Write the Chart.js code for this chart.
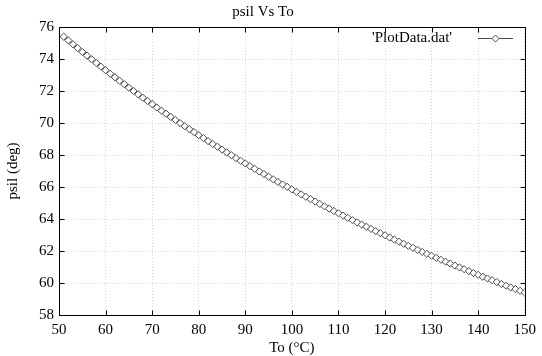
<!DOCTYPE html>
<html>
<head>
<meta charset="utf-8">
<script src="https://cdn.jsdelivr.net/npm/chart.js@4.4.0/dist/chart.umd.min.js"></script>
<style>
    html, body { margin: 0; padding: 0; background: #fff; }
    #wrap { width: 542px; height: 356px; }
</style>
</head>
<body>
<div id="wrap"><canvas id="psilChart" width="542" height="356"></canvas></div>
<script>
// ---- données ----
const toValues = [
    51, 52, 53, 54, 55, 56, 57, 58, 59, 60,
    61, 62, 63, 64, 65, 66, 67, 68, 69, 70,
    71, 72, 73, 74, 75, 76, 77, 78, 79, 80,
    81, 82, 83, 84, 85, 86, 87, 88, 89, 90,
    91, 92, 93, 94, 95, 96, 97, 98, 99, 100,
    101, 102, 103, 104, 105, 106, 107, 108, 109, 110,
    111, 112, 113, 114, 115, 116, 117, 118, 119, 120,
    121, 122, 123, 124, 125, 126, 127, 128, 129, 130,
    131, 132, 133, 134, 135, 136, 137, 138, 139, 140,
    141, 142, 143, 144, 145, 146, 147, 148, 149, 150
];
const psilValues = [
    75.40, 75.16, 74.92, 74.68, 74.44, 74.21, 73.98, 73.75, 73.52, 73.30,
    73.08, 72.86, 72.64, 72.43, 72.21, 72.00, 71.79, 71.58, 71.38, 71.18,
    70.97, 70.77, 70.58, 70.38, 70.19, 69.99, 69.80, 69.61, 69.43, 69.24,
    69.06, 68.87, 68.69, 68.52, 68.34, 68.16, 67.99, 67.81, 67.64, 67.47,
    67.30, 67.14, 66.97, 66.81, 66.64, 66.48, 66.32, 66.16, 66.01, 65.85,
    65.70, 65.54, 65.39, 65.24, 65.09, 64.94, 64.79, 64.65, 64.50, 64.36,
    64.21, 64.07, 63.93, 63.79, 63.65, 63.52, 63.38, 63.24, 63.11, 62.98,
    62.84, 62.71, 62.58, 62.45, 62.32, 62.20, 62.07, 61.94, 61.82, 61.70,
    61.57, 61.45, 61.33, 61.21, 61.09, 60.97, 60.86, 60.74, 60.62, 60.51,
    60.39, 60.28, 60.17, 60.06, 59.94, 59.83, 59.72, 59.62, 59.51, 59.40
];
const xTickValues = [50, 60, 70, 80, 90, 100, 110, 120, 130, 140, 150];
const yTickValues = [58, 60, 62, 64, 66, 68, 70, 72, 74, 76];
const seriesLabel = "'PlotData.dat'";

const SERIF = "'Liberation Serif', 'Times New Roman', serif";
const LINE_COLOR = '#4a4a4a';

// cadre noir + graduations vers l'intérieur (style gnuplot) + légende
const gnuplotFrame = {
    id: 'gnuplotFrame',
    afterDraw(chart) {
        const { ctx, chartArea: a, scales } = chart;
        const L = Math.round(a.left) + 0.5, R = Math.round(a.right) + 0.5;
        const T = Math.round(a.top) + 0.5, B = Math.round(a.bottom) + 0.5;
        ctx.save();
        ctx.strokeStyle = '#000';
        ctx.lineWidth = 1;
        ctx.strokeRect(L, T, R - L, B - T);

        // graduations
        ctx.beginPath();
        xTickValues.forEach(v => {
            const px = Math.round(scales.x.getPixelForValue(v)) + 0.5;
            ctx.moveTo(px, B); ctx.lineTo(px, B - 5);
            ctx.moveTo(px, T); ctx.lineTo(px, T + 5);
        });
        yTickValues.forEach(v => {
            const py = Math.round(scales.y.getPixelForValue(v)) + 0.5;
            ctx.moveTo(L, py); ctx.lineTo(L + 5, py);
            ctx.moveTo(R, py); ctx.lineTo(R - 5, py);
        });
        ctx.stroke();

        // légende
        const ly = T + 11;
        ctx.font = '15px ' + SERIF;
        ctx.fillStyle = '#000';
        ctx.textAlign = 'right';
        ctx.textBaseline = 'middle';
        ctx.fillText(seriesLabel, 452, ly);
        ctx.strokeStyle = LINE_COLOR;
        ctx.beginPath();
        ctx.moveTo(478, ly); ctx.lineTo(513, ly);
        ctx.stroke();
        ctx.fillStyle = '#fff';
        ctx.beginPath();
        ctx.moveTo(495.5, ly - 3.5); ctx.lineTo(499, ly);
        ctx.lineTo(495.5, ly + 3.5); ctx.lineTo(492, ly);
        ctx.closePath();
        ctx.fill(); ctx.stroke();
        ctx.restore();
    }
};

const ctx = document.getElementById('psilChart').getContext('2d');
new Chart(ctx, {
    type: 'scatter',
    data: {
        datasets: [{
            label: seriesLabel,
            data: toValues.map((t, i) => ({ x: t, y: psilValues[i] })),
            showLine: true,
            borderColor: LINE_COLOR,
            borderWidth: 1,
            pointStyle: 'rectRot',
            pointRadius: 3.6,
            pointBorderWidth: 1,
            pointBorderColor: LINE_COLOR,
            pointBackgroundColor: '#fff',
            tension: 0
        }]
    },
    options: {
        responsive: false,
        animation: false,
        layout: { padding: { left: 0, right: 16, top: 0, bottom: 0 } },
        plugins: {
            legend: { display: false },
            tooltip: { enabled: false },
            title: {
                display: true,
                text: 'psil Vs To',
                color: '#000',
                font: { family: SERIF, size: 15, weight: 'normal', lineHeight: 1.2 },
                padding: { top: 3, bottom: 6 }
            }
        },
        scales: {
            x: {
                type: 'linear',
                min: 50, max: 150,
                afterBuildTicks: s => { s.ticks = xTickValues.map(v => ({ value: v })); },
                afterFit: s => { s.height = 41; },
                grid: { color: '#d6d6d6', drawTicks: false },
                border: { display: false, dash: [1, 2] },
                ticks: { color: '#000', padding: 6, maxRotation: 0, font: { family: SERIF, size: 15 } },
                title: {
                    display: true, text: 'To (°C)', color: '#000',
                    font: { family: SERIF, size: 15, lineHeight: 1 },
                    padding: { top: 0, bottom: 0 }
                }
            },
            y: {
                min: 58, max: 76,
                afterBuildTicks: s => { s.ticks = yTickValues.map(v => ({ value: v })); },
                afterFit: s => { s.width = 59; },
                grid: { color: '#d6d6d6', drawTicks: false },
                border: { display: false, dash: [1, 2] },
                ticks: { color: '#000', padding: 5, font: { family: SERIF, size: 15 } },
                title: {
                    display: true, text: 'psil (deg)', color: '#000',
                    font: { family: SERIF, size: 15, lineHeight: 1 },
                    padding: { top: 6, bottom: 0 }
                }
            }
        }
    },
    plugins: [gnuplotFrame]
});
</script>
</body>
</html>
